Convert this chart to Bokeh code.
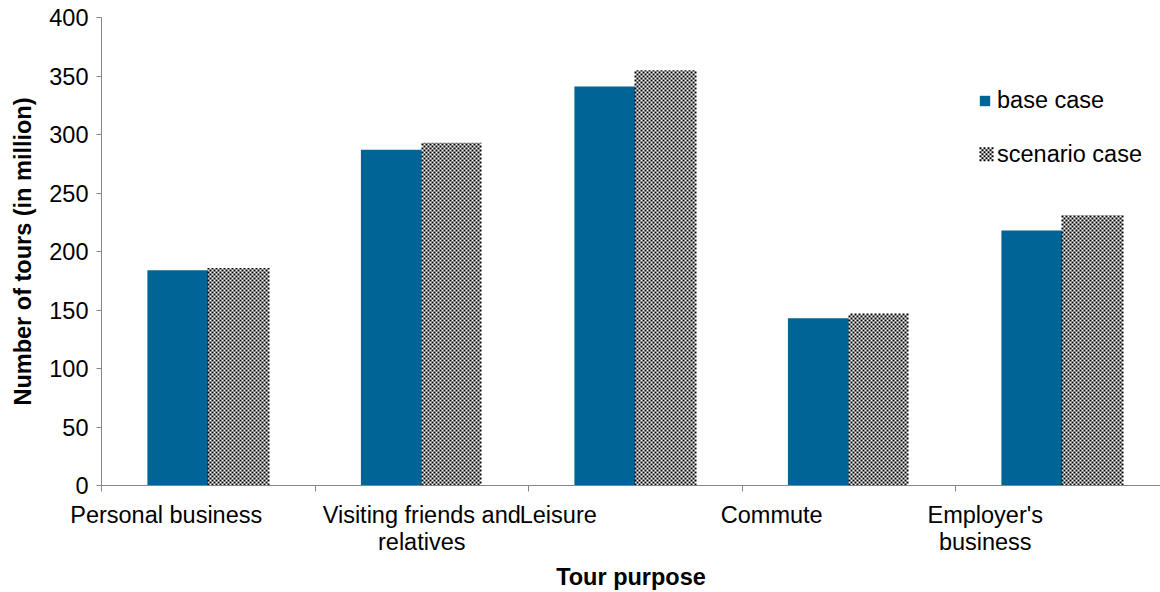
import math
from bokeh.plotting import figure
from bokeh.models import Range1d, FixedTicker, Legend, LegendItem
from bokeh.embed import file_html
from bokeh.resources import INLINE

# ---- data ----
categories = ["Personal business", "Visiting friends and\nrelatives", "Leisure", "Commute", "Employer's\nbusiness"]
base_case = [184, 287, 341, 143, 218]
scenario_case = [186, 293, 355, 147, 231]
y_ticks = [0, 50, 100, 150, 200, 250, 300, 350, 400]
series_names = ["base case", "scenario case"]

# ---- style ----
FONT = "Liberation Sans"
FS = "23.5px"
AXIS_COLOR = "#868686"
BLUE = "#006496"
BAR_W = 0.285
W, H = 1160, 592
LEFT, TOP, BOTTOM = 101, 17, 106
PX_PER_CAT = 213.5
Y_MAX = 400
CELL = 2                      # checker cell size (px)
label_shift_px = [-42, 0, -77, -77, -77]
swatch_px = (979, 147, 7)     # legend checker swatch: left, top, columns

n = len(categories)
frame_h = H - TOP - BOTTOM
px_per_y = frame_h / Y_MAX
centers = [i + 0.5 for i in range(n)]
x_base = [c - BAR_W / 2 for c in centers]
x_scen = [c + BAR_W / 2 for c in centers]
label_pos = [c + dx / PX_PER_CAT for c, dx in zip(centers, label_shift_px)]

p = figure(width=W, height=H, output_backend="svg", toolbar_location=None,
           x_range=Range1d(0, (W - LEFT) / PX_PER_CAT), y_range=Range1d(0, Y_MAX),
           min_border_left=LEFT, min_border_top=TOP, min_border_bottom=BOTTOM, min_border_right=0)
p.outline_line_color = None
p.xgrid.visible = False
p.ygrid.visible = False

r1 = p.vbar(x=x_base, top=base_case, width=BAR_W, bottom=0, fill_color=BLUE, line_color=None)
r2 = p.vbar(x=x_scen, top=scenario_case, width=BAR_W, bottom=0, fill_color="white", fill_alpha=0,
            line_color=None)

# checkerboard texture for the scenario bars: 2px dashed columns, alternate columns shifted by one cell
sx0, sy0, sx1, sy1 = [], [], [], []
for c, v in zip(centers, scenario_case):
    left_px = LEFT + c * PX_PER_CAT
    right_px = left_px + BAR_W * PX_PER_CAT
    cx = math.floor(left_px) + CELL / 2
    k = 0
    while cx + CELL / 2 <= right_px + 0.5:
        sx0.append((cx - LEFT) / PX_PER_CAT)
        sx1.append((cx - LEFT) / PX_PER_CAT)
        sy0.append((k % 2) * CELL / px_per_y)
        sy1.append(v)
        cx += CELL
        k += 1
# legend swatch
lx, ly, ncol = swatch_px
y_bot = (H - BOTTOM - (ly + ncol * CELL))
for k in range(ncol):
    cx = lx + CELL / 2 + k * CELL
    sx0.append((cx - LEFT) / PX_PER_CAT)
    sx1.append((cx - LEFT) / PX_PER_CAT)
    sy0.append((y_bot + (k % 2) * CELL) / px_per_y)
    sy1.append((y_bot + ncol * CELL) / px_per_y)

p.segment(x0=sx0, y0=sy0, x1=sx1, y1=sy1, line_color="black", line_width=CELL,
          line_dash=f"{CELL} {CELL}", line_cap="butt")

# y axis
ya = p.yaxis[0]
ya.ticker = FixedTicker(ticks=y_ticks)
ya.axis_line_color = AXIS_COLOR
ya.major_tick_line_color = AXIS_COLOR
ya.major_tick_out = 5
ya.major_tick_in = 0
ya.minor_tick_line_color = None
ya.major_label_text_font = FONT
ya.major_label_text_font_size = FS
ya.major_label_text_color = "black"
ya.major_label_standoff = 8
ya.axis_label = "Number of tours (in million)"
ya.axis_label_text_font = FONT
ya.axis_label_text_font_size = FS
ya.axis_label_text_font_style = "bold"
ya.axis_label_text_color = "black"
ya.axis_label_standoff = 10

# x axis: boundary ticks as minor ticks, category labels as major tick labels
xa = p.xaxis[0]
xa.ticker = FixedTicker(ticks=label_pos, minor_ticks=list(range(n + 1)))
xa.axis_line_color = AXIS_COLOR
xa.major_tick_line_color = None
xa.major_tick_out = 0
xa.major_tick_in = 0
xa.minor_tick_line_color = AXIS_COLOR
xa.minor_tick_out = 6
xa.minor_tick_in = 0
xa.major_label_overrides = {lp: cat for lp, cat in zip(label_pos, categories)}
xa.major_label_text_font = FONT
xa.major_label_text_font_size = FS
xa.major_label_text_color = "black"
xa.major_label_text_line_height = 1.04
xa.major_label_standoff = 10
xa.axis_label = "Tour purpose"
xa.axis_label_text_font = FONT
xa.axis_label_text_font_size = FS
xa.axis_label_text_font_style = "bold"
xa.axis_label_text_color = "black"
xa.axis_label_standoff = 6

legend = Legend(items=[LegendItem(label=series_names[0], renderers=[r1]),
                       LegendItem(label=series_names[1], renderers=[r2])],
                location=(877, 317), glyph_width=13, glyph_height=13,
                label_text_font=FONT, label_text_font_size=FS, label_text_color="black",
                label_standoff=6, spacing=27, padding=0, margin=0,
                border_line_color=None, background_fill_alpha=0)
p.add_layout(legend)

open("out.html", "w").write(file_html(p, INLINE))
